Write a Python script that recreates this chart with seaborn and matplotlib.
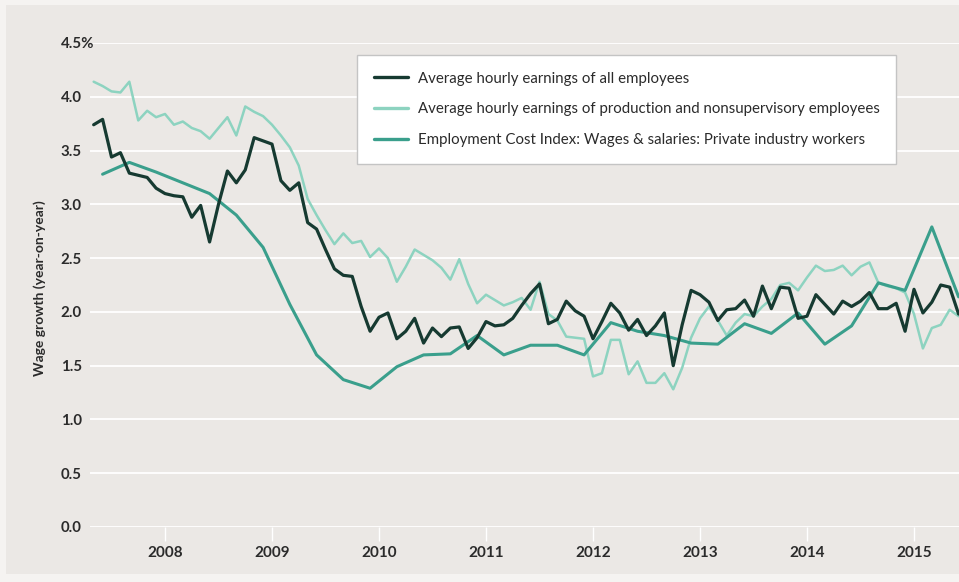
import matplotlib
matplotlib.use("Agg")
import matplotlib.pyplot as plt
from matplotlib.patches import Rectangle
import numpy as np
import pandas as pd
import seaborn as sns

# Monthly year-on-year wage growth (%), May 2007 - June 2015
start_year, start_month = 2007, 5
all_employees = [
    3.74, 3.79, 3.44, 3.48, 3.29, 3.27, 3.25, 3.15, 3.10, 3.08,
    3.07, 2.88, 2.99, 2.65, 3.00, 3.31, 3.20, 3.32, 3.62, 3.59,
    3.56, 3.22, 3.13, 3.20, 2.83, 2.77, 2.58, 2.40, 2.34, 2.33,
    2.05, 1.82, 1.95, 1.99, 1.75, 1.82, 1.94, 1.71, 1.85, 1.77,
    1.85, 1.86, 1.66, 1.76, 1.91, 1.87, 1.88, 1.94, 2.06, 2.17,
    2.26, 1.89, 1.93, 2.10, 2.01, 1.96, 1.75, 1.91, 2.08, 1.99,
    1.83, 1.93, 1.78, 1.87, 1.99, 1.50, 1.88, 2.20, 2.16, 2.09,
    1.92, 2.02, 2.03, 2.11, 1.96, 2.24, 2.03, 2.23, 2.22, 1.94,
    1.96, 2.16, 2.07, 1.98, 2.10, 2.05, 2.10, 2.18, 2.03, 2.03,
    2.08, 1.82, 2.21, 1.99, 2.09, 2.25, 2.23, 1.98,
]
production_nonsup = [
    4.14, 4.10, 4.05, 4.04, 4.14, 3.78, 3.87, 3.81, 3.84, 3.74,
    3.77, 3.71, 3.68, 3.61, 3.71, 3.81, 3.64, 3.91, 3.86, 3.82,
    3.74, 3.64, 3.53, 3.36, 3.05, 2.90, 2.76, 2.63, 2.73, 2.64,
    2.66, 2.51, 2.59, 2.50, 2.28, 2.42, 2.58, 2.53, 2.48, 2.41,
    2.30, 2.49, 2.26, 2.08, 2.16, 2.11, 2.06, 2.09, 2.13, 2.02,
    2.28, 1.98, 1.92, 1.77, 1.76, 1.75, 1.40, 1.43, 1.74, 1.74,
    1.42, 1.54, 1.34, 1.34, 1.43, 1.28, 1.48, 1.76, 1.94, 2.05,
    1.92, 1.78, 1.90, 1.98, 1.96, 2.05, 2.12, 2.25, 2.27, 2.20,
    2.32, 2.43, 2.38, 2.39, 2.43, 2.34, 2.42, 2.46, 2.27, 2.24,
    2.22, 2.18, 1.98, 1.66, 1.85, 1.88, 2.02, 1.96,
]
# Quarterly ECI, June 2007 - June 2015
eci_start_month = 6
eci_wages = [
    3.28, 3.39, 3.30, 3.20, 3.10, 2.90, 2.60, 2.07, 1.60, 1.37,
    1.29, 1.49, 1.60, 1.61, 1.78, 1.60, 1.69, 1.69, 1.60, 1.90,
    1.82, 1.78, 1.71, 1.70, 1.89, 1.80, 1.99, 1.70, 1.87, 2.27,
    2.20, 2.79, 2.14,
]

series_names = [
    "Average hourly earnings of all employees",
    "Average hourly earnings of production and nonsupervisory employees",
    "Employment Cost Index: Wages & salaries: Private industry workers",
]
series_colors = ["#163a31", "#8dd3c0", "#3a9f8c"]
year_ticks = [2008, 2009, 2010, 2011, 2012, 2013, 2014, 2015]
y_ticks = [0.0, 0.5, 1.0, 1.5, 2.0, 2.5, 3.0, 3.5, 4.0, 4.5]
y_tick_labels = ["0.0", "0.5", "1.0", "1.5", "2.0", "2.5", "3.0", "3.5", "4.0", "4.5%"]

monthly_x = [start_year + (start_month - 1 + i) / 12 for i in range(len(all_employees))]
quarterly_x = [start_year + (eci_start_month - 1 + 3 * i) / 12 for i in range(len(eci_wages))]

df = pd.concat([
    pd.DataFrame({"year": monthly_x, "growth": all_employees, "series": series_names[0]}),
    pd.DataFrame({"year": monthly_x, "growth": production_nonsup, "series": series_names[1]}),
    pd.DataFrame({"year": quarterly_x, "growth": eci_wages, "series": series_names[2]}),
], ignore_index=True)

sns.set_theme(style="white")
plt.rcParams["font.family"] = ["Lato", "DejaVu Sans"]

bg = "#ebe8e5"
W, H = 959, 582
fig = plt.figure(figsize=(W / 100, H / 100), dpi=100, facecolor="#f5f3f1")
fig.patches.append(Rectangle((6 / W, 8 / H), 1 - 6 / W, 1 - 13 / H,
                             transform=fig.transFigure, facecolor=bg,
                             edgecolor="none", zorder=-10))
ax = fig.add_axes([90 / W, 55 / H, 1 - 90 / W, (527 - 43) / H])
ax.set_facecolor(bg)

draw_order = [1, 2, 0]
widths = {0: 2.3, 1: 1.8, 2: 2.2}
for i in draw_order:
    sub = df[df["series"] == series_names[i]]
    sns.lineplot(data=sub, x="year", y="growth", ax=ax, color=series_colors[i],
                 linewidth=widths[i], label=series_names[i], zorder=3 + draw_order.index(i),
                 estimator=None, sort=True)

ax.set_xlim(2008 + (90 - 165) / 107, 2008 + (959 - 165) / 107)
ax.set_ylim(0, 4.5)
ax.set_yticks(y_ticks)
ax.set_yticklabels(y_tick_labels)
ax.set_xticks(year_ticks)
ax.set_xticklabels([str(y) for y in year_ticks])
ax.grid(axis="y", color="white", linewidth=1.3, zorder=1)
ax.grid(axis="x", visible=False)
ax.set_axisbelow(True)
for s in ax.spines.values():
    s.set_visible(False)

ax.tick_params(axis="y", length=0, pad=21, labelsize=10.8, labelcolor="#2b2b2b")
for lab in ax.get_yticklabels():
    lab.set_horizontalalignment("left")
    lab.set_fontweight("bold")
ax.tick_params(axis="x", bottom=True, length=10, width=1.0, color="white",
               direction="out", pad=4, labelsize=11, labelcolor="#2b2b2b")
for lab in ax.get_xticklabels():
    lab.set_fontweight("bold")

ax.set_xlabel("")
ax.set_ylabel("Wage growth (year-on-year)", fontsize=10, fontweight="bold",
              color="#2b2b2b", labelpad=0)
ax.yaxis.set_label_coords((46 - 90) / (W - 90), (527 - 288) / 484)

handles, labels = ax.get_legend_handles_labels()
order = [labels.index(n) for n in series_names]
leg = ax.legend([handles[j] for j in order], [labels[j] for j in order],
                loc="upper left", bbox_to_anchor=(357 / W, 1 - 55 / H),
                bbox_transform=fig.transFigure, borderaxespad=0,
                frameon=True, fancybox=False, framealpha=1,
                facecolor="white", edgecolor="#c4c4c4",
                fontsize=10.8, handlelength=2.3, handletextpad=0.67,
                borderpad=1.1, labelspacing=1.12)
leg.get_frame().set_linewidth(1.0)
for t in leg.get_texts():
    t.set_color("#2b2b2b")
for h in leg.get_lines():
    h.set_linewidth(2.4)

fig.savefig("out.png", dpi=100, facecolor=fig.get_facecolor())
